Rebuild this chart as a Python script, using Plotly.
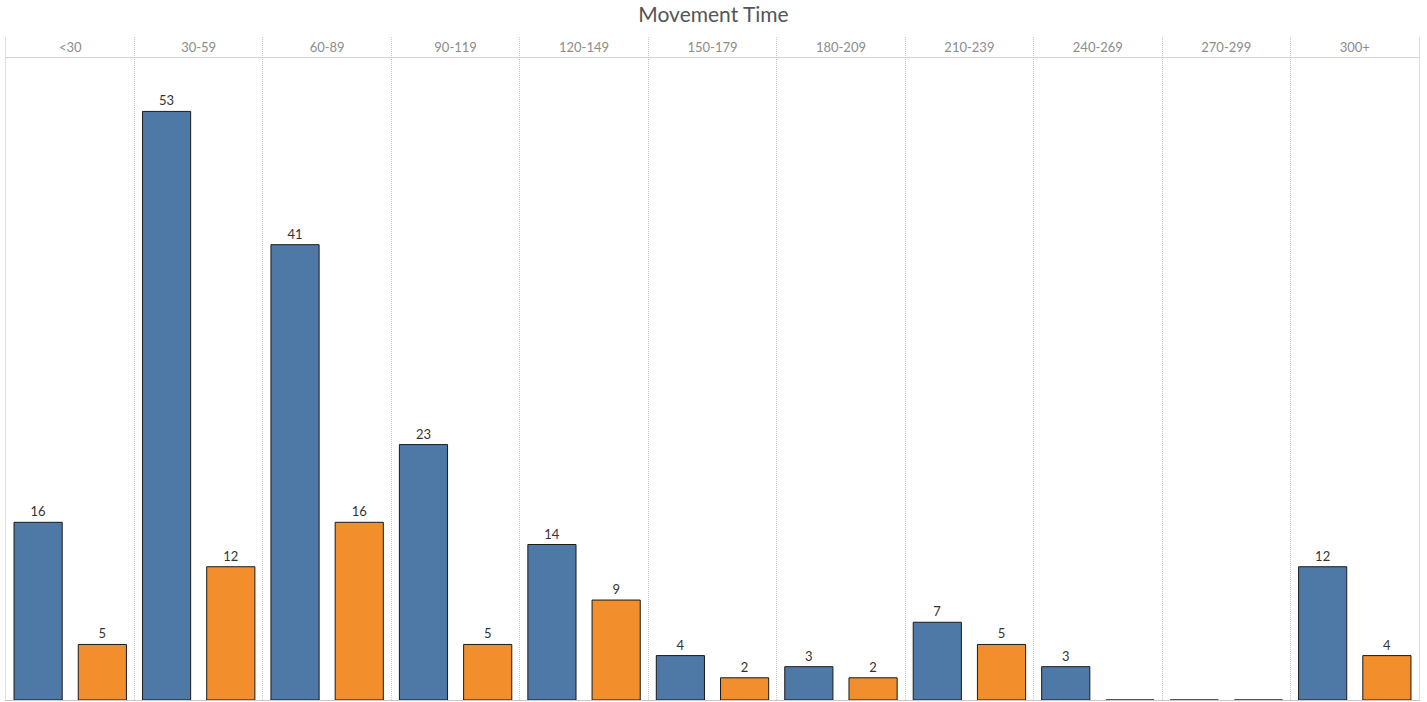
import plotly.graph_objects as go

categories = ["<30", "30-59", "60-89", "90-119", "120-149", "150-179",
              "180-209", "210-239", "240-269", "270-299", "300+"]
series_a = [16, 53, 41, 23, 14, 4, 3, 7, 3, 0, 12]
series_b = [5, 12, 16, 5, 9, 2, 2, 5, 0, 0, 4]

BLUE = "#4e79a7"
ORANGE = "#f28e2b"
FONT = "Lato, 'Open Sans', sans-serif"

def labels(vals):
    return [str(v) if v else "" for v in vals]

fig = go.Figure()
for vals, col, name in [(series_a, BLUE, "A"), (series_b, ORANGE, "B")]:
    fig.add_trace(go.Bar(
        x=categories, y=vals, name=name,
        marker=dict(color=col, line=dict(color="#1a1a1a", width=1)),
        text=labels(vals), textposition="outside",
        textfont=dict(size=13, color="#333333", family=FONT),
        cliponaxis=False, xaxis="x", yaxis="y",
    ))

# header row labels
fig.add_trace(go.Scatter(
    x=categories, y=[0.4] * len(categories), mode="text", text=categories,
    textfont=dict(size=13, color="#8c8c8c", family=FONT),
    xaxis="x2", yaxis="y2", showlegend=False, hoverinfo="skip",
))

hdr = 20 / 663
grid = dict(showgrid=True, gridcolor="#c8c8c8", griddash="1px,1px", gridwidth=1,
            tickson="boundaries", ticks="", showticklabels=False,
            zeroline=False, range=[-0.5, len(categories) - 0.5],
            type="category", categoryorder="array", categoryarray=categories)
yside = dict(showgrid=False, zeroline=False, showticklabels=False, ticks="",
             showline=True, linecolor="#e0e0e0", linewidth=1, mirror=True)

fig.update_layout(
    width=1427, height=702,
    margin=dict(l=6, r=8, t=37, b=2),
    paper_bgcolor="white", plot_bgcolor="white",
    showlegend=False,
    barmode="group", bargap=0.0, bargroupgap=0.25,
    title=dict(text="Movement Time", x=0.5, xanchor="center",
               y=1 - 15 / 702, yanchor="middle", yref="container",
               font=dict(size=21, color="#555555", family=FONT)),
    xaxis=dict(**grid, anchor="y", showline=True, linecolor="#c8c8c8", linewidth=1),
    yaxis=dict(**yside, domain=[0, 1 - hdr], range=[0, 57.9]),
    xaxis2=dict(**grid, anchor="y2", matches="x", showline=True,
                linecolor="#d4d4d4", linewidth=1),
    yaxis2=dict(**yside, domain=[1 - hdr, 1], range=[0, 1]),
)

fig.write_html("out.html", config={"displayModeBar": False},
               post_script="document.body.style.margin='0';")
